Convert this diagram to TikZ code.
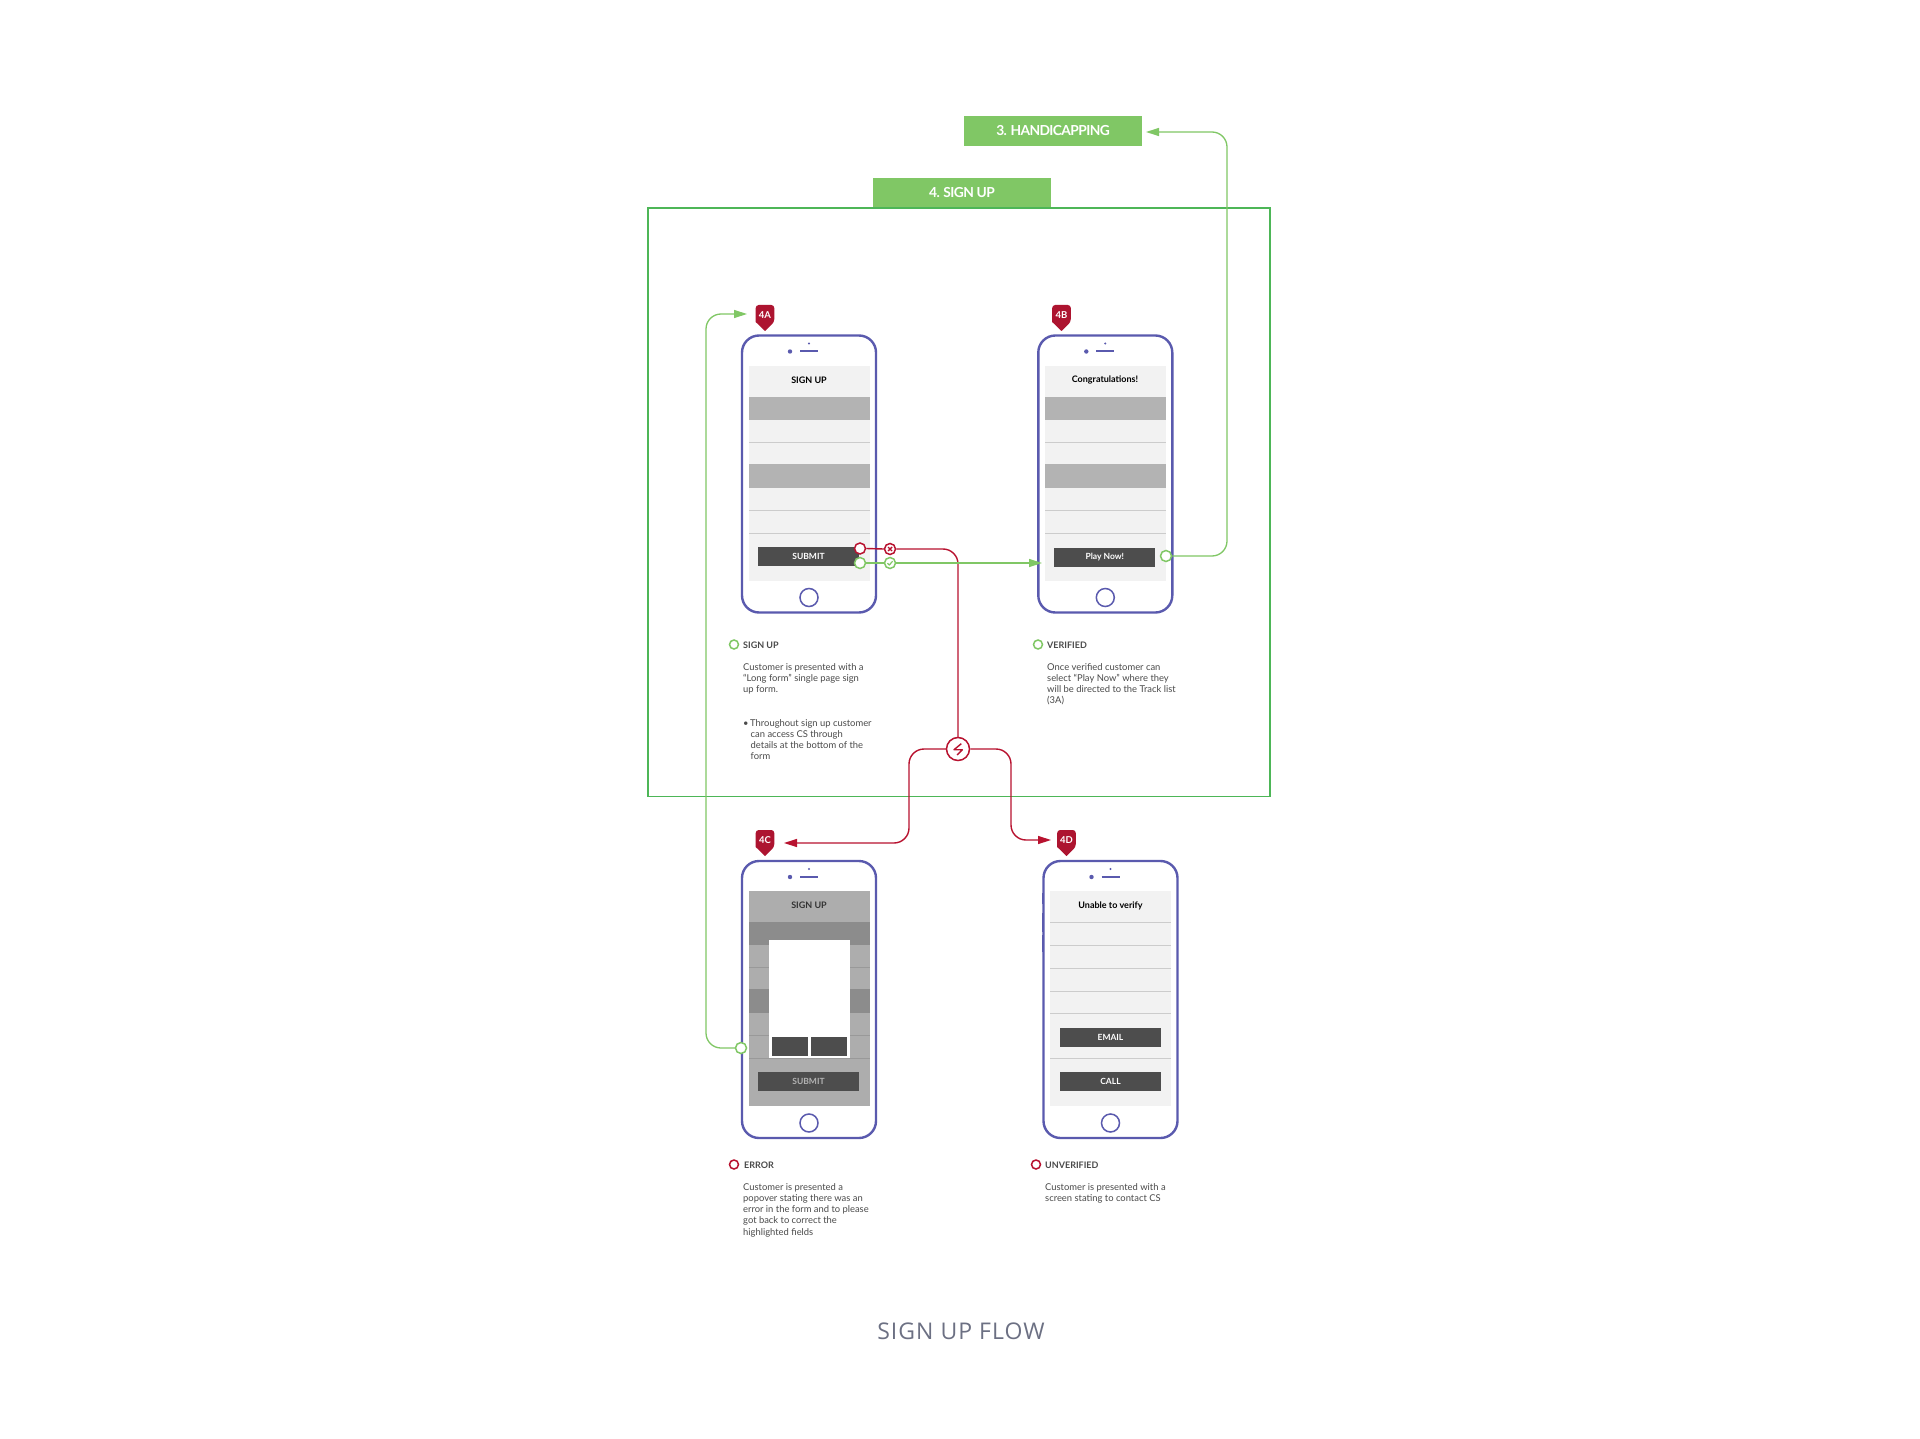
\documentclass[tikz,border=0pt]{standalone}
\usepackage{fontspec}
\setmainfont{Lato}
\newfontfamily\titlefont[LetterSpace=4.5]{Open Sans}
\newfontfamily\tabfont[LetterSpace=-4.5]{Lato}
\usetikzlibrary{arrows.meta}
\definecolor{phonec}{HTML}{5A5AAE}
\definecolor{redc}{HTML}{B8122F}
\definecolor{pinc}{HTML}{AD1430}
\definecolor{greenc}{HTML}{80C765}
\definecolor{framec}{HTML}{4DB657}
\definecolor{screenc}{HTML}{F2F2F2}
\definecolor{bandc}{HTML}{B3B3B3}
\definecolor{rulec}{HTML}{CCCCCC}
\definecolor{btnc}{HTML}{4D4D4D}
\definecolor{dimscreen}{HTML}{ADADAD}
\definecolor{dimband}{HTML}{8C8C8C}
\definecolor{dimrule}{HTML}{999999}
\definecolor{bodyc}{HTML}{4A4A4A}
\definecolor{titlec}{HTML}{6C7083}
\tikzset{
  x=1pt,y=-1pt,
  phonebox/.style={draw=phonec,line width=2.4pt,rounded corners=17pt,minimum width=134pt,minimum height=277pt,inner sep=0,fill=white},
  homebtn/.style={circle,draw=phonec,line width=1.5pt,minimum size=18pt,inner sep=0},
  tabbox/.style={fill=greenc,text=white,minimum width=178pt,minimum height=30pt,inner sep=0,font=\fontsize{13.8}{14}\selectfont\tabfont\bfseries},
  screentitle/.style={font=\fontsize{9}{9}\selectfont\bfseries,text=black,inner sep=0},
  btntext/.style={font=\fontsize{8.5}{9}\selectfont\bfseries,text=white,inner sep=0},
  pintext/.style={font=\fontsize{9.5}{9}\selectfont\bfseries,text=white,inner sep=0},
  gport/.style={circle,draw=greenc,fill=white,line width=1.5pt,minimum size=11pt,inner sep=0},
  rport/.style={circle,draw=redc,fill=white,line width=1.5pt,minimum size=11pt,inner sep=0},
  gline/.style={draw=greenc,line width=1.3pt,rounded corners=15pt},
  rline/.style={draw=redc,line width=1.4pt,rounded corners=15pt},
  garrow/.style={gline,-{Triangle[length=13pt,width=8pt,fill=greenc]}},
  rarrow/.style={rline,-{Triangle[length=13pt,width=8pt,fill=redc]}},
  gbullet/.style={circle,draw=greenc,line width=1.5pt,minimum size=9pt,inner sep=0},
  rbullet/.style={circle,draw=redc,line width=1.5pt,minimum size=9pt,inner sep=0},
  heading/.style={anchor=west,inner sep=0,text=bodyc,font=\fontsize{9}{10}\selectfont\bfseries},
  bodytext/.style={anchor=north west,inner sep=0,align=left,text=bodyc,font=\fontsize{9.4}{11.1}\selectfont},
}
% phone outline details: #1 = node name, #2 = x centre, #3 = y top
\newcommand{\phoneshell}[3]{%
  \node[phonebox] (#1) at (#2,#3+139.5) {};
  \fill[phonec] (#2-19,#3+17) circle (2.2pt) (#2,#3+9) circle (1.1pt);
  \draw[phonec,line width=2pt] (#2-9,#3+17) -- (#2+9,#3+17);
  \node[homebtn] (#1home) at (#2,#3+263) {};
  \draw[phonec,line width=1pt] (#2-68,#3+33) -- (#2-68,#3+44) (#2-68,#3+53) -- (#2-68,#3+72) (#2-68,#3+75) -- (#2-68,#3+92);
}
% standard form screen: #1 x centre, #2 y of screen top, #3 screen, #4 band, #5 rule
\newcommand{\formscreen}[5]{%
  \fill[#3] (#1-60,#2) rectangle (#1+60.5,#2+215);
  \fill[#4] (#1-60,#2+31) rectangle (#1+60.5,#2+54);
  \fill[#4] (#1-60,#2+98) rectangle (#1+60.5,#2+122);
  \draw[#5,line width=.8pt] (#1-60,#2+76) -- (#1+60.5,#2+76) (#1-60,#2+144) -- (#1+60.5,#2+144) (#1-60,#2+167) -- (#1+60.5,#2+167);
}
\newcommand{\pinmark}[4]{%
  \fill[pinc,rounded corners=3pt] (#1-9.3,#2+17) -- (#1-9.3,#2) -- (#1+9.3,#2) -- (#1+9.3,#2+17) [sharp corners] -- (#1,#2+26) -- cycle;
  \node[pintext] (#3) at (#1,#2+10) {#4};
}
\begin{document}
\begin{tikzpicture}
\useasboundingbox (0,0) rectangle (1920,1439);
\fill[white] (0,0) rectangle (1920,1439);

% frame and tabs
\node[tabbox] (tabhc) at (1053,131) {3. HANDICAPPING};
\node[tabbox] (tabsu) at (962,193) {4. SIGN UP};
\node[draw=framec,line width=1.6pt,minimum width=621.5pt,minimum height=588.5pt,inner sep=0] (frame) at (959,502.3) {};

% phone A
\phoneshell{pA}{809}{334.5}
\formscreen{809}{366}{screenc}{bandc}{rulec}
\node[screentitle] (tA) at (809,380) {SIGN UP};
\node[fill=btnc,btntext,minimum width=101pt,minimum height=19pt] (bA) at (808.5,556.5) {SUBMIT};
\pinmark{765}{305}{pinA}{4A}

% phone B
\phoneshell{pB}{1105.3}{334.5}
\formscreen{1105.3}{366}{screenc}{bandc}{rulec}
\node[screentitle] (tB) at (1105,380.3) {Congratulations!};
\node[fill=btnc,btntext,minimum width=101pt,minimum height=19pt] (bB) at (1104.8,557) {Play Now!};
\pinmark{1061.5}{305}{pinB}{4B}

% phone C
\phoneshell{pC}{809}{860}
\formscreen{809}{891}{dimscreen}{dimband}{dimrule}
\node[screentitle,text=black!80] (tC) at (809,905.5) {SIGN UP};
\node[fill=btnc,btntext,text=bandc,minimum width=101pt,minimum height=19pt] (bC) at (808.5,1081.5) {SUBMIT};
\fill[white] (769,940) rectangle (850,1058);
\node[fill=btnc,minimum width=36pt,minimum height=19pt,inner sep=0] (okC) at (790,1046.5) {};
\node[fill=btnc,minimum width=36pt,minimum height=19pt,inner sep=0] (noC) at (829,1046.5) {};
\pinmark{765}{830}{pinC}{4C}

% phone D
\phoneshell{pD}{1110.5}{860}
\fill[screenc] (1050,891) rectangle (1171,1106);
\draw[rulec,line width=.8pt] (1050,922) -- (1171,922) (1050,945) -- (1171,945) (1050,968) -- (1171,968) (1050,991) -- (1171,991) (1050,1013) -- (1171,1013) (1050,1058) -- (1171,1058);
\node[screentitle] (tD) at (1110.5,906) {Unable to verify};
\node[fill=btnc,btntext,minimum width=101pt,minimum height=19pt] (bD1) at (1110.5,1037.5) {EMAIL};
\node[fill=btnc,btntext,minimum width=101pt,minimum height=19pt] (bD2) at (1110.5,1081.5) {CALL};
\pinmark{1066.5}{830}{pinD}{4D}

% connector ends
\coordinate (endA) at (747,314);
\coordinate (endB) at (1042,563);
\coordinate (endC) at (784,843);
\coordinate (endD) at (1051,840);
\coordinate (endH) at (1146,132);

% red connectors
\node[rport] (rA) at (860,548.5) {};
\node[rport] (rX) at (890,549) {};
\node[circle,draw=redc,fill=white,line width=1.5pt,minimum size=23pt,inner sep=0] (junc) at (958,749) {};
\draw[rline] (rA.east) -- (rX.west);
\draw[rline] (rX.east) -- (958,549) -- (junc.north);
\draw[rarrow] (junc.west) -- (909,749) -- (909,843) -- (endC);
\draw[rarrow] (junc.east) -- (1011,749) -- (1011,840) -- (endD);
\draw[redc,line width=1.4pt] (rX.center)+(-2,-2) -- +(2,2) +(-2,2) -- +(2,-2);
\draw[redc,line width=1.4pt,line join=round] (junc.center)+(3.3,-5.3) -- +(-4,.7) -- +(4.3,.7) -- +(-1,6);

% green connectors
\node[gport] (gA) at (860,563) {};
\node[gport] (gC) at (890,563) {};
\node[gport] (gB) at (1166,556) {};
\node[gport] (gR) at (741,1048) {};
\draw[gline] (gA.east) -- (gC.west);
\draw[garrow] (gC.east) -- (endB);
\draw[garrow] (gB.east) -- (1227,556) -- (1227,132) -- (endH);
\draw[garrow] (gR.west) -- (706,1048) -- (706,314) -- (endA);
\draw[greenc,line width=1.2pt,line join=round] (gC.center)+(-2.5,.2) -- +(-.7,2) -- +(2.6,-1.8);

% descriptions
\node[gbullet] (d1) at (734,644.5) {};
\node[heading] (h1) at (743,645) {SIGN UP};
\node[bodytext] (x1) at (743,663.5) {Customer is presented with a\\``Long form'' single page sign\\up form.};
\node[bodytext] (x2) at (743,719.5) {\textbullet\,Throughout sign up customer\\\hspace*{7.5pt}can access CS through\\\hspace*{7.5pt}details at the bottom of the\\\hspace*{7.5pt}form};

\node[gbullet] (d2) at (1038,644.5) {};
\node[heading] (h2) at (1047,645) {VERIFIED};
\node[bodytext] (x3) at (1047,663.5) {Once verified customer can\\select ``Play Now'' where they\\will be directed to the Track list\\(3A)};

\node[rbullet] (d3) at (734,1164.5) {};
\node[heading] (h3) at (744,1165) {ERROR};
\node[bodytext] (x4) at (743,1183.5) {Customer is presented a\\popover stating there was an\\error in the form and to please\\got back to correct the\\highlighted fields};

\node[rbullet] (d4) at (1036,1164.5) {};
\node[heading] (h4) at (1045,1165) {UNVERIFIED};
\node[bodytext] (x5) at (1045,1183.5) {Customer is presented with a\\screen stating to contact CS};

\node[text=titlec,inner sep=0,font=\fontsize{23}{24}\selectfont\titlefont] (title) at (961,1331) {SIGN UP FLOW};
\end{tikzpicture}
\end{document}
